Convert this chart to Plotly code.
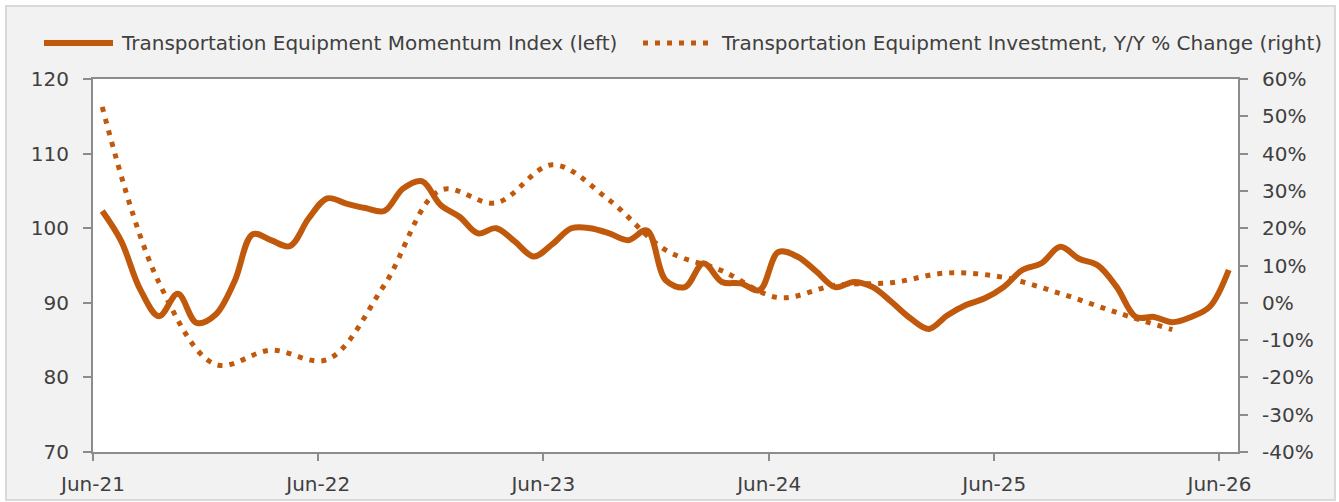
import pandas as pd
import plotly.graph_objects as go

# monthly momentum index, Jun-21 .. Jun-26 (left axis)
momentum_months = pd.date_range('2021-06-01', periods=61, freq='MS')
momentum_index = [
    102.3, 98.3, 91.8, 88.2, 91.2, 87.3, 88.4, 92.9, 99.2, 98.4, 97.6, 101.3,
    104.0, 103.3, 102.7, 102.3, 105.3, 106.3, 103.1, 101.5, 99.3, 100.0, 98.2, 96.2,
    97.9, 100.0, 100.0, 99.3, 98.4, 99.7, 93.0, 92.1, 95.3, 92.8, 92.6, 91.7,
    96.8, 96.2, 94.2, 92.1, 92.8, 92.1, 90.1, 87.9, 86.5, 88.3, 89.7, 90.6,
    92.1, 94.4, 95.3, 97.5, 95.9, 95.0, 92.1, 88.1, 88.1, 87.4, 88.1, 89.5,
    94.4,
]

# quarterly investment y/y % change, Jun-21 .. Mar-26 (right axis)
invest_quarters = pd.date_range('2021-06-01', periods=20, freq='3MS')
invest_yoy = [
    52.5, 5.4, -16.5, -12.7, -15.2, 4.7, 30.2, 26.8, 37.0, 27.5,
    14.1, 8.6, 1.4, 4.7, 5.4, 8.0, 6.8, 2.5, -2.6, -7.2,
]

left_ticks = [70, 80, 90, 100, 110, 120]
right_ticks = [-40, -30, -20, -10, 0, 10, 20, 30, 40, 50, 60]

name_left = 'Transportation Equipment Momentum Index (left)'
name_right = 'Transportation Equipment Investment, Y/Y % Change (right)'

ORANGE = '#C0590C'
AXIS_GREY = '#8c8c8c'
TEXT = '#404040'
FONT = 'DejaVu Sans'

W, H = 1339, 502
L, R, T, B = 93, 1238, 79, 452


def px(x):
    return (x - L) / (R - L)


def py(y):
    return (B - y) / (B - T)


fig = go.Figure()

fig.add_trace(go.Scatter(
    x=momentum_months, y=momentum_index, name=name_left,
    xperiod='M1', xperiodalignment='middle',
    mode='lines', line=dict(color=ORANGE, width=6, shape='spline', smoothing=1)))

fig.add_trace(go.Scatter(
    x=invest_quarters, y=invest_yoy, name=name_right, yaxis='y2',
    xperiod='M1', xperiodalignment='middle',
    mode='lines', line=dict(color=ORANGE, width=5, dash='5px,7px', shape='spline', smoothing=1)))

shapes = [
    # outer chart box
    dict(type='rect', xref='paper', yref='paper', layer='below',
         x0=px(6), x1=px(1335), y0=py(500), y1=py(6),
         fillcolor='#f2f2f2', line=dict(color='#d9d9d9', width=2)),
    # white plot area
    dict(type='rect', xref='paper', yref='paper', layer='below',
         x0=0, x1=1, y0=0, y1=1, fillcolor='white', line=dict(width=0)),
    # legend samples
    dict(type='line', xref='paper', yref='paper', x0=px(44), x1=px(113), y0=py(43), y1=py(43),
         line=dict(color=ORANGE, width=6)),
    dict(type='line', xref='paper', yref='paper', x0=px(643), x1=px(714), y0=py(43), y1=py(43),
         line=dict(color=ORANGE, width=5, dash='5px,7px')),
]

annotations = [
    dict(xref='paper', yref='paper', x=px(119), y=py(43), xanchor='left', yanchor='middle',
         text=name_left, showarrow=False, font=dict(size=20, color=TEXT, family=FONT)),
    dict(xref='paper', yref='paper', x=px(719), y=py(43), xanchor='left', yanchor='middle',
         text=name_right, showarrow=False, font=dict(size=20, color=TEXT, family=FONT)),
]

axis_font = dict(size=20, color=TEXT, family=FONT)

fig.update_layout(
    width=W, height=H,
    margin=dict(l=L, r=W - R, t=T, b=H - B, pad=0),
    paper_bgcolor='white',
    plot_bgcolor='rgba(0,0,0,0)',
    showlegend=False,
    font=dict(family=FONT, color=TEXT, size=20),
    shapes=shapes,
    annotations=annotations,
    xaxis=dict(
        type='date', range=['2021-06-01', '2026-07-01'],
        tick0='2021-06-01', dtick='M12', tickformat='%b-%y',
        showgrid=False, zeroline=False, automargin=False,
        showline=True, linecolor=AXIS_GREY, linewidth=2, mirror=True,
        ticks='outside', ticklen=7, tickwidth=2, tickcolor=AXIS_GREY,
        tickfont=axis_font, ticklabelstandoff=6),
    yaxis=dict(
        range=[70, 120], tickvals=left_ticks,
        showgrid=False, zeroline=False, automargin=False,
        showline=True, linecolor=AXIS_GREY, linewidth=2,
        ticks='outside', ticklen=8, tickwidth=2, tickcolor=AXIS_GREY,
        tickfont=axis_font, ticklabelstandoff=10),
    yaxis2=dict(
        range=[-40, 60], overlaying='y', side='right',
        tickvals=right_ticks, ticktext=[f'{v}%' for v in right_ticks],
        showgrid=False, zeroline=False, automargin=False,
        showline=True, linecolor=AXIS_GREY, linewidth=2,
        ticks='outside', ticklen=8, tickwidth=2, tickcolor=AXIS_GREY,
        tickfont=axis_font, ticklabelstandoff=10),
)

# drop the default page margin so the figure sits at the window's top-left corner
fig.write_html('out.html', config={'displayModeBar': False},
               post_script="document.body.style.margin='0px';")
